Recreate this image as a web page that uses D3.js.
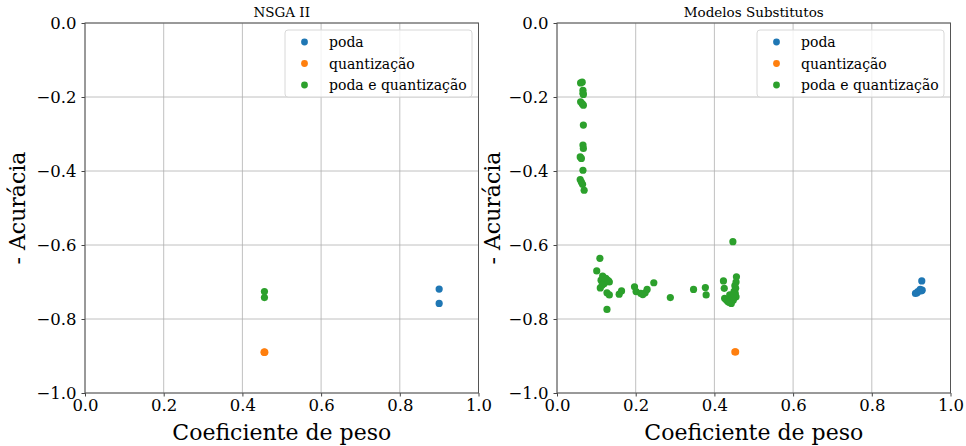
<!DOCTYPE html>
<html>
<head>
  <meta charset="utf-8">
  <script src="https://d3js.org/d3.v7.min.js"></script>
  <style>
  body { margin: 0; background: #fff; }
  text { font-family: "DejaVu Serif", serif; fill: #000; }
  .grid line { stroke: #b0b0b0; stroke-width: 0.8; }
  </style>
</head>
<body>
<script>
// series names and colours (legend order)
var seriesNames = ["poda", "quantização", "poda e quantização"];
var seriesColors = ["#1f77b4", "#ff7f0e", "#2ca02c"];
var xTicks = [0, 0.2, 0.4, 0.6, 0.8, 1.0];
var yTicks = [0, -0.2, -0.4, -0.6, -0.8, -1.0];

// NSGA II panel, [coef, -acc]
var nsgaPoda = [[0.900, -0.719], [0.900, -0.758]];
var nsgaQuant = [[0.455, -0.890], [0.457, -0.890], [0.456, -0.889]];
var nsgaPodaQuant = [[0.456, -0.726], [0.456, -0.742]];

// Modelos Substitutos panel
var subPoda = [[0.927, -0.697], [0.928, -0.722], [0.923, -0.720], [0.917, -0.726],
  [0.911, -0.731], [0.915, -0.729], [0.925, -0.724]];
var subQuant = [[0.452, -0.889], [0.454, -0.889]];
var subPodaQuant = [
  [0.064, -0.160], [0.060, -0.162], [0.066, -0.182], [0.066, -0.190], [0.067, -0.193],
  [0.060, -0.213], [0.064, -0.218], [0.067, -0.222], [0.067, -0.276], [0.066, -0.330],
  [0.067, -0.339], [0.059, -0.362], [0.062, -0.366], [0.066, -0.398], [0.059, -0.423],
  [0.062, -0.430], [0.065, -0.436], [0.069, -0.452],
  [0.109, -0.636], [0.101, -0.670], [0.116, -0.684], [0.124, -0.690], [0.131, -0.697],
  [0.112, -0.695], [0.120, -0.704], [0.133, -0.700], [0.127, -0.694], [0.118, -0.688],
  [0.110, -0.716], [0.115, -0.708], [0.127, -0.729], [0.133, -0.735], [0.127, -0.774],
  [0.158, -0.733], [0.164, -0.724], [0.197, -0.713], [0.201, -0.726], [0.213, -0.731],
  [0.224, -0.729], [0.229, -0.720], [0.218, -0.734], [0.246, -0.702], [0.288, -0.742],
  [0.347, -0.720], [0.377, -0.715], [0.379, -0.735],
  [0.447, -0.591], [0.456, -0.686], [0.423, -0.697], [0.455, -0.700], [0.454, -0.717],
  [0.453, -0.731], [0.455, -0.740], [0.448, -0.749], [0.425, -0.717], [0.426, -0.744],
  [0.434, -0.753], [0.443, -0.758], [0.439, -0.735], [0.450, -0.725], [0.445, -0.742],
  [0.430, -0.748], [0.437, -0.755], [0.452, -0.710], [0.449, -0.733]
];

var panels = [
  {title: "NSGA II", left: 85, data: [nsgaPoda, nsgaQuant, nsgaPodaQuant], ylabX: 17},
  {title: "Modelos Substitutos", left: 557, data: [subPoda, subQuant, subPodaQuant], ylabX: 492}
];

function drawChart() {
  var W = 966, H = 446, mTop = 23, plotW = 393.5, plotH = 370;

  var svg = d3.select("body").append("svg")
    .attr("width", W).attr("height", H);

  panels.forEach(function(p) {
    var x = d3.scaleLinear().domain([0, 1]).range([0, plotW]);
    var y = d3.scaleLinear().domain([-1, 0]).range([plotH, 0]);
    var g = svg.append("g").attr("transform", "translate(" + p.left + "," + mTop + ")");

    // grid
    var grid = g.append("g").attr("class", "grid");
    grid.selectAll(".gx").data(xTicks).enter().append("line")
      .attr("x1", d => x(d)).attr("x2", d => x(d)).attr("y1", 0).attr("y2", plotH);
    grid.selectAll(".gy").data(yTicks).enter().append("line")
      .attr("y1", d => y(d)).attr("y2", d => y(d)).attr("x1", 0).attr("x2", plotW);

    // points
    p.data.forEach(function(pts, i) {
      g.append("g").selectAll("circle").data(pts).enter().append("circle")
        .attr("cx", d => x(d[0])).attr("cy", d => y(d[1]))
        .attr("r", 3.6).attr("fill", seriesColors[i]);
    });

    // axes
    var fmt = d3.format(".1f");
    var ax = g.append("g").attr("transform", "translate(0," + plotH + ")")
      .call(d3.axisBottom(x).tickValues(xTicks).tickFormat(fmt).tickSize(3.5).tickPadding(3));
    var ay = g.append("g")
      .call(d3.axisLeft(y).tickValues(yTicks).tickFormat(fmt).tickSize(3.5).tickPadding(5));
    [ax, ay].forEach(function(a) {
      a.select(".domain").remove();
      a.selectAll("line").attr("stroke", "#444");
      a.selectAll("text").attr("font-family", "DejaVu Serif").attr("font-size", 16.5).attr("fill", "#000");
    });

    // frame
    g.append("rect").attr("width", plotW).attr("height", plotH)
      .attr("fill", "none").attr("stroke", "#555").attr("stroke-width", 1);

    // title and labels
    g.append("text").attr("x", plotW / 2).attr("y", -6)
      .attr("text-anchor", "middle").attr("font-size", 13.5).text(p.title);
    g.append("text").attr("x", plotW / 2).attr("y", plotH + 47)
      .attr("text-anchor", "middle").attr("font-size", 22).text("Coeficiente de peso");
    svg.append("text")
      .attr("transform", "translate(" + p.ylabX + "," + (mTop + plotH / 2) + ") rotate(-90)")
      .attr("text-anchor", "middle").attr("dominant-baseline", "central")
      .attr("font-size", 22).text("- Acurácia");

    // legend
    var lg = g.append("g").attr("transform", "translate(" + (plotW - 193.5) + ",7)");
    lg.append("rect").attr("width", 187).attr("height", 67).attr("rx", 3)
      .attr("fill", "#fff").attr("fill-opacity", 0.8)
      .attr("stroke", "#d8d8d8").attr("stroke-width", 1);
    seriesNames.forEach(function(n, i) {
      var yy = 12 + i * 21.5;
      lg.append("circle").attr("cx", 19.5).attr("cy", yy).attr("r", 3.4).attr("fill", seriesColors[i]);
      lg.append("text").attr("x", 44).attr("y", yy).attr("dominant-baseline", "central")
        .attr("font-size", 14).text(n);
    });
  });
}

drawChart();
</script>
</body>
</html>
